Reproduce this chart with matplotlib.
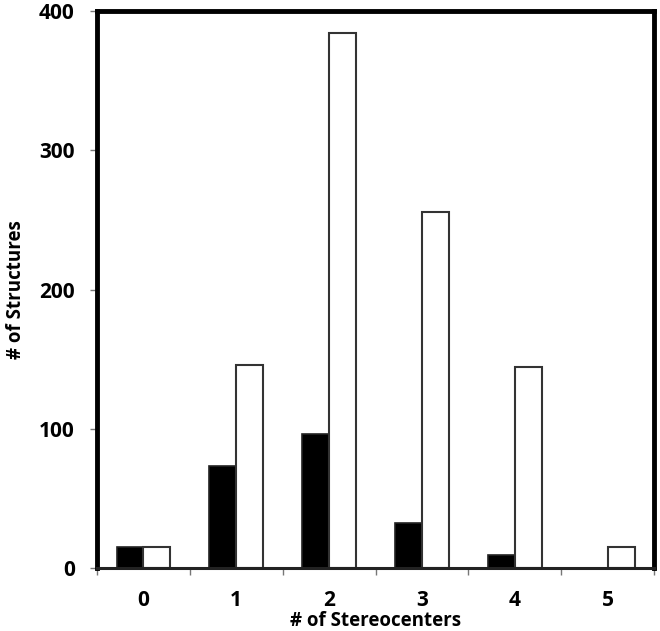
#!/usr/bin/env python3
"""
Stereocenter count histogram
"""
import numpy as np
import matplotlib
matplotlib.use('Agg')
import matplotlib.pyplot as plt

categories = ['0', '1', '2', '3', '4', '5']
black_counts = [15, 73, 96, 32, 9, 0]
white_counts = [15, 146, 384, 256, 144, 15]
y_ticks = [0, 100, 200, 300, 400]

plt.rcParams['font.family'] = ['Open Sans', 'DejaVu Sans']
plt.rcParams['font.weight'] = 'bold'


def main():
  fig = plt.figure(figsize=(6.6, 6.31), dpi=100)
  ax = fig.add_axes([0.147, 0.0998, 0.844, 0.8828])

  x = np.arange(len(categories))
  width = 0.29
  ax.bar(x - width / 2, black_counts, width, color='black',
         edgecolor='#222222', linewidth=1.2, zorder=2)
  ax.bar(x + width / 2, white_counts, width, color='white',
         edgecolor='#333333', linewidth=1.5, zorder=2)

  ax.set_xlim(-0.5, len(categories) - 0.5)
  ax.set_ylim(0, 400)
  ax.set_yticks(y_ticks)
  ax.set_xticks(x)
  ax.set_xticklabels(categories)
  ax.set_xticks(np.arange(len(categories) + 1) - 0.5, minor=True)

  ax.tick_params(axis='x', which='major', length=0, pad=16, labelsize=15)
  ax.tick_params(axis='x', which='minor', length=5, width=1, color='#777777',
                 direction='out')
  ax.tick_params(axis='y', length=5, width=1, color='#777777', pad=11,
                 labelsize=15)
  for lab in ax.get_xticklabels() + ax.get_yticklabels():
    lab.set_fontweight('bold')

  for side in ['left', 'top', 'right']:
    ax.spines[side].set_linewidth(3.5)
    ax.spines[side].set_color('black')
  ax.spines['bottom'].set_linewidth(2.2)
  ax.spines['bottom'].set_color('#222222')

  ax.set_xlabel('# of Stereocenters', fontsize=13.5, fontweight='bold')
  ax.xaxis.set_label_coords(0.5, -0.078)
  ax.set_ylabel('# of Structures', fontsize=13.5, fontweight='bold')
  ax.yaxis.set_label_coords(-0.128, 0.5)

  fig.savefig('out.png', dpi=100)


if __name__ == '__main__':
  main()
